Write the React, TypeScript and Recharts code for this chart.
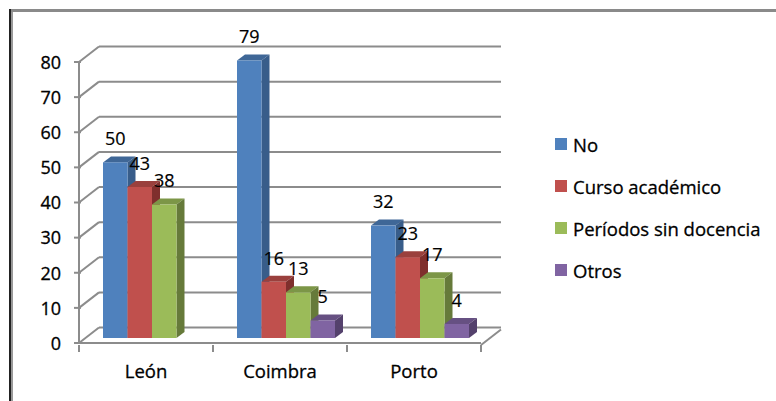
import React from 'react';
import { BarChart, Bar, XAxis, YAxis, Legend, LabelList, CartesianGrid } from 'recharts';

const categories = ['León', 'Coimbra', 'Porto'];
const noValues = [50, 79, 32];
const cursoValues = [43, 16, 23];
const periodosValues = [38, 13, 17];
const otrosValues = [null, 5, 4];
const yTicks = [0, 10, 20, 30, 40, 50, 60, 70, 80];

const chartData = categories.map((name, i) => ({
  name,
  no: noValues[i],
  curso: cursoValues[i],
  periodos: periodosValues[i],
  otros: otrosValues[i],
}));

const FONT = '"Open Sans", "Noto Sans", sans-serif';
const AXIS_GRAY = '#8c8c8c';
const TEXT = '#000';
const BAND = 134;

// floor depth of the fake 3D box
const WALL_DX = 20;
const WALL_DY = 15.5;
// bars stand a bit behind the front edge
const BAR_DX = 6;
const BAR_DY = 5;
const SIDE_DX = 8;
const SIDE_DY = 6;

// wall lines go under the bars, so they live in the grid and not the axis tick
const wallLine = (props: any) => {
  const { x1, y1, x2 } = props;
  return (
    <g key={props.key ?? y1}>
      <line x1={x1} y1={y1} x2={x1 + WALL_DX} y2={y1 - WALL_DY} stroke={AXIS_GRAY} strokeWidth={2} />
      <line
        x1={x1 + WALL_DX}
        y1={y1 - WALL_DY}
        x2={x2 + WALL_DX}
        y2={y1 - WALL_DY}
        stroke={AXIS_GRAY}
        strokeWidth={2}
      />
    </g>
  );
};

const YTick = (props: any) => {
  const { x, y, payload } = props;
  const ax = x + 8; // axis line position
  return (
    <g>
      <line x1={ax - 7} y1={y} x2={ax} y2={y} stroke={AXIS_GRAY} strokeWidth={2} />
      <text
        x={ax - 20}
        y={y + 2}
        textAnchor="end"
        dominantBaseline="middle"
        fontFamily={FONT}
        fontSize={18}
        fill={TEXT}
        stroke={TEXT}
        strokeWidth={0.3}
      >
        {payload.value}
      </text>
    </g>
  );
};

const XTick = (props: any) => {
  const { x, y, payload, index } = props;
  const base = y - 6;
  const left = x - BAND / 2;
  const right = x + BAND / 2;
  return (
    <g>
      <line x1={left} y1={base} x2={left} y2={base + 7} stroke={AXIS_GRAY} strokeWidth={2} />
      {index === categories.length - 1 && (
        <>
          <line x1={right} y1={base} x2={right} y2={base + 7} stroke={AXIS_GRAY} strokeWidth={2} />
          <line x1={right} y1={base} x2={right + WALL_DX} y2={base - WALL_DY} stroke={AXIS_GRAY} strokeWidth={2} />
        </>
      )}
      <text
        x={x}
        y={base + 28}
        textAnchor="middle"
        dominantBaseline="middle"
        fontFamily={FONT}
        fontSize={18.5}
        fill={TEXT}
        stroke={TEXT}
        strokeWidth={0.3}
      >
        {payload.value}
      </text>
    </g>
  );
};

const makeBar = (front: string, top: string, side: string) => (props: any) => {
  const { x, y, width, height, value } = props;
  if (value == null || !height) return <g />;
  const fx = x + BAR_DX;
  const fy = y - BAR_DY;
  const r = fx + width;
  const b = fy + height;
  return (
    <g>
      <polygon
        points={`${fx},${fy} ${fx + SIDE_DX},${fy - SIDE_DY} ${r + SIDE_DX},${fy - SIDE_DY} ${r},${fy}`}
        fill={top}
      />
      <polygon
        points={`${r},${fy} ${r + SIDE_DX},${fy - SIDE_DY} ${r + SIDE_DX},${b - SIDE_DY} ${r},${b}`}
        fill={side}
      />
      <rect x={fx} y={fy} width={width} height={height} fill={front} />
    </g>
  );
};

const barLabel = (props: any) => {
  const { x, y, width, value } = props;
  if (value == null) return null;
  return (
    <text
      x={x + width / 2 + BAR_DX}
      y={y - BAR_DY - 22}
      textAnchor="middle"
      dominantBaseline="middle"
      fontFamily={FONT}
      fontSize={18}
      fill={TEXT}
      stroke={TEXT}
      strokeWidth={0.2}
    >
      {value}
    </text>
  );
};

const legendContent = (props: any) => (
  <div style={{ fontFamily: FONT, fontSize: 18.5, color: TEXT, WebkitTextStroke: '0.3px #000' }}>
    {props.payload.map((item: any) => (
      <div key={item.value} style={{ display: 'flex', alignItems: 'center', height: 42 }}>
        <span style={{ width: 12, height: 12, background: item.color, marginRight: 6, flex: 'none' }} />
        <span style={{ whiteSpace: 'nowrap' }}>{item.value}</span>
      </div>
    ))}
  </div>
);

const series = [
  { key: 'no', name: 'No', color: '#4F81BD', top: '#3f6797', side: '#385D8A' },
  { key: 'curso', name: 'Curso académico', color: '#C0504D', top: '#9a403d', side: '#7F2F2D' },
  { key: 'periodos', name: 'Períodos sin docencia', color: '#9BBB59', top: '#7c9647', side: '#667A3A' },
  { key: 'otros', name: 'Otros', color: '#8064A2', top: '#665082', side: '#54416C' },
];

export default function App() {
  return (
    <div style={{ position: 'absolute', left: 0, top: 0, width: 776, height: 401, background: '#fff' }}>
      <div style={{ position: 'absolute', left: 9, top: 9, right: 0, height: 3, background: '#8a8a8a' }} />
      <div style={{ position: 'absolute', left: 9, top: 9, bottom: 0, width: 2, background: '#222' }} />
      <div style={{ position: 'absolute', left: 11, top: 12, bottom: 0, width: 2, background: '#999' }} />
      <BarChart
        width={776}
        height={401}
        data={chartData}
        margin={{ top: 62, right: 295, bottom: 28, left: 19 }}
        barGap={0}
        barSize={24.5}
      >
        <CartesianGrid vertical={false} horizontal={wallLine} horizontalValues={yTicks} />
        <XAxis
          dataKey="name"
          height={30}
          axisLine={{ stroke: AXIS_GRAY, strokeWidth: 2 }}
          tickLine={false}
          tick={XTick}
          interval={0}
        />
        <YAxis
          width={60}
          domain={[0, 80]}
          ticks={yTicks}
          axisLine={{ stroke: AXIS_GRAY, strokeWidth: 2 }}
          tickLine={false}
          tick={YTick}
          interval={0}
          tickMargin={0}
        />
        <Legend
          layout="vertical"
          align="center"
          verticalAlign="middle"
          content={legendContent}
          itemSorter={null}
          wrapperStyle={{ left: 555, top: 123, width: 215, height: 168 }}
        />
        {series.map((s) => (
          <Bar
            key={s.key}
            dataKey={s.key}
            name={s.name}
            fill={s.color}
            isAnimationActive={false}
            shape={makeBar(s.color, s.top, s.side)}
          >
            <LabelList dataKey={s.key} content={barLabel} />
          </Bar>
        ))}
      </BarChart>
    </div>
  );
}
